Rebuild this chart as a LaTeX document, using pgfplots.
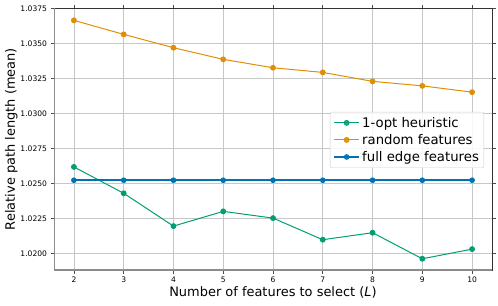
\documentclass[border=0pt]{standalone}
\usepackage{pgfplots}
\pgfplotsset{compat=1.18}
\usepackage{fontspec}
\setmainfont{DejaVu Sans}
\definecolor{cbgreen}{HTML}{029E73}
\definecolor{cborange}{HTML}{DE8F05}
\definecolor{cbblue}{HTML}{0173B2}
\begin{document}
\begin{tikzpicture}
\begin{axis}[
  name=ax,
  scale only axis,
  width=438bp, height=261.7bp,
  xmin=1.6, xmax=10.4,
  ymin=1.01884, ymax=1.0375,
  xtick={2,3,4,5,6,7,8,9,10},
  ytick={1.0200,1.0225,1.0250,1.0275,1.0300,1.0325,1.0350,1.0375},
  yticklabel style={/pgf/number format/.cd,fixed,fixed zerofill,precision=4},
  scaled y ticks=false,
  /pgf/number format/assume math mode=true,
  ticklabel style={font=\fontsize{7.6}{8}\selectfont},
  tick align=outside,
  major tick length=3.5bp,
  tick style={color=black!70, line width=0.6pt},
  grid=major,
  grid style={color=black!22, line width=0.8pt},
  axis line style={color=black!80, line width=0.8pt},
  xlabel={Number of features to select (\textit{L})},
  ylabel={Relative path length (mean)},
  label style={font=\fontsize{13.0}{15}\selectfont},
  xlabel style={yshift=3bp},
  ylabel style={yshift=-4bp},
  legend style={at={(0.982,0.497)}, anchor=east, font=\fontsize{13.3}{15}\selectfont,
    draw=black!20, fill=white, fill opacity=0.85, text opacity=1, rounded corners=2pt,
    row sep=1.5bp, inner sep=3bp},
  legend cell align=left,
  legend image code/.code={
    \draw[mark repeat=2,mark phase=2] plot coordinates {(0cm,0cm) (0.45cm,0cm) (0.9cm,0cm)};
  },
]
\addplot[color=cbgreen, line width=1pt, mark=*, mark size=2.4bp] coordinates {
(2,1.02619) (3,1.02431) (4,1.02197) (5,1.02302) (6,1.02254) (7,1.02100) (8,1.02150) (9,1.01964) (10,1.02033)};
\addlegendentry{1-opt heuristic}
\addplot[color=cborange, line width=1pt, mark=*, mark size=2.4bp] coordinates {
(2,1.03664) (3,1.03564) (4,1.03469) (5,1.03386) (6,1.03326) (7,1.03293) (8,1.03229) (9,1.03197) (10,1.03152)};
\addlegendentry{random features}
\addplot[color=cbblue, line width=1.6pt, mark=*, mark size=2.4bp, mark options={line width=0.8pt}] coordinates {
(2,1.02524) (3,1.02524) (4,1.02524) (5,1.02524) (6,1.02524) (7,1.02524) (8,1.02524) (9,1.02524) (10,1.02524)};
\addlegendentry{full edge features}
\draw[color=black!45, line width=1.3pt] (rel axis cs:0,1) -- (rel axis cs:0,0) -- (rel axis cs:1,0);
\end{axis}
\pgfresetboundingbox
\path ([shift={(-54bp,-35bp)}]ax.south west) rectangle ([shift={(6bp,8.3bp)}]ax.north east);
\end{tikzpicture}
\end{document}
